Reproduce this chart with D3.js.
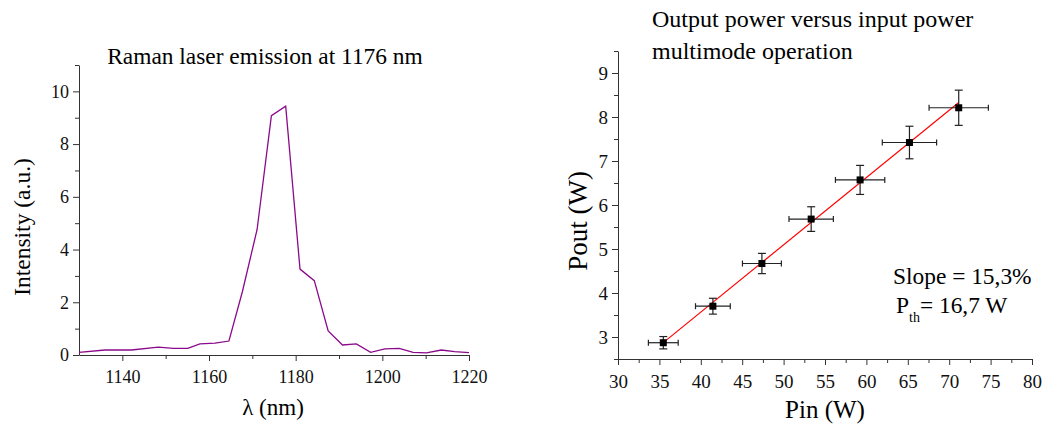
<!DOCTYPE html>
<html>
<head>
<meta charset="utf-8">
<script src="https://cdn.jsdelivr.net/npm/d3@7"></script>
<style>
  body { margin: 0; background: #fff; }
</style>
</head>
<body>
<svg width="1045" height="425" font-family="'Liberation Serif', 'Times New Roman', Times, serif"></svg>
<script>
const serif = "'Liberation Serif', 'Times New Roman', Times, serif";

// spectrum (left)
const lambda = [1130, 1136, 1142.1, 1148.3, 1151.8, 1155.1, 1157.9, 1161.4, 1164.6, 1167.7, 1171.1,
  1174.4, 1177.7, 1181, 1184.3, 1187.5, 1190.8, 1194, 1197.3, 1200.6, 1203.9, 1207.1, 1210.2,
  1213.6, 1216.7, 1220];
const intensity = [0.1, 0.19, 0.19, 0.3, 0.25, 0.25, 0.42, 0.45, 0.53, 2.4, 4.76,
  9.08, 9.44, 3.26, 2.82, 0.91, 0.38, 0.42, 0.1, 0.23, 0.25, 0.1, 0.08,
  0.19, 0.13, 0.09];
const specXTicks = [1140, 1160, 1180, 1200, 1220];
const specYTicks = [0, 2, 4, 6, 8, 10];

// output vs input power (right)
const pin = [35.47, 41.46, 47.38, 53.33, 59.24, 65.2, 71.15];
const pout = [2.87, 3.7, 4.67, 5.68, 6.57, 7.42, 8.21];
const pinErr = [1.8, 2.1, 2.35, 2.68, 2.98, 3.28, 3.58];
const poutErr = [0.14, 0.18, 0.23, 0.28, 0.33, 0.37, 0.4];
const slope = 0.153, pth = 16.7;
const pinTicks = [30, 35, 40, 45, 50, 55, 60, 65, 70, 75, 80];
const poutTicks = [3, 4, 5, 6, 7, 8, 9];

const svg = d3.select("svg");

// axis helper: major + minor ticks, serif labels
function axis(gen, tr, major, minor, fs, lblOff, horiz) {
  const g = svg.append("g").attr("transform", tr)
    .call(gen.tickValues(major).tickSize(6).tickSizeOuter(0).tickFormat(d3.format("d")));
  g.attr("font-family", serif).attr("font-size", fs);
  g.selectAll("path,line").attr("stroke", "#333");
  g.selectAll("text").attr("fill", "#111");
  if (horiz) g.selectAll("text").attr("dy", "1.05em");
  else g.selectAll("text").attr("x", -lblOff);
  const m = svg.append("g").attr("transform", tr)
    .call(gen.tickValues(minor).tickSize(4).tickFormat(""));
  m.select(".domain").remove();
  m.selectAll("line").attr("stroke", "#333");
}

// ---------- left chart ----------
const x1 = d3.scaleLinear().domain([1130, 1220]).range([79, 469]);
const y1 = d3.scaleLinear().domain([0, 11]).range([355, 65]);

axis(d3.axisBottom(x1), "translate(0,355)", specXTicks, [1150, 1170, 1190, 1210], 18, 0, true);
axis(d3.axisLeft(y1), "translate(79,0)", specYTicks, [1, 3, 5, 7, 9, 11], 18, 10, false);

svg.append("path")
  .datum(lambda.map((d, i) => [d, intensity[i]]))
  .attr("fill", "none")
  .attr("stroke", "#8b0a8b")
  .attr("stroke-width", 1.3)
  .attr("d", d3.line().x(d => x1(d[0])).y(d => y1(d[1])));

svg.append("text").attr("x", 265).attr("y", 64).attr("text-anchor", "middle")
  .attr("font-size", 23.4).text("Raman laser emission at 1176 nm");
svg.append("text").attr("transform", "translate(30,227) rotate(-90)")
  .attr("text-anchor", "middle").attr("font-size", 23.5).text("Intensity (a.u.)");
svg.append("text").attr("x", 273).attr("y", 415).attr("text-anchor", "middle")
  .attr("font-size", 23).text("λ (nm)");

// ---------- right chart ----------
const x2 = d3.scaleLinear().domain([30, 80]).range([618, 1032]);
const y2 = d3.scaleLinear().domain([2.5, 9.5]).range([359, 51]);

axis(d3.axisBottom(x2), "translate(0,359)", pinTicks, d3.range(32.5, 80, 5), 19, 0, true);
axis(d3.axisLeft(y2), "translate(618,0)", poutTicks, d3.range(2.5, 9.6, 1), 19, 10, false);

// linear fit
svg.append("line")
  .attr("x1", x2(pin[0])).attr("y1", y2(slope * (pin[0] - pth)))
  .attr("x2", x2(pin[pin.length - 1])).attr("y2", y2(slope * (pin[pin.length - 1] - pth)))
  .attr("stroke", "#ff0000").attr("stroke-width", 1.2);

const pts = svg.append("g").selectAll("g")
  .data(pin.map((d, i) => ({ x: d, y: pout[i], ex: pinErr[i], ey: poutErr[i] })))
  .join("g").attr("stroke", "#222").attr("stroke-width", 1.2);
// horizontal error bars
pts.append("line").attr("x1", d => x2(d.x - d.ex)).attr("x2", d => x2(d.x + d.ex))
  .attr("y1", d => y2(d.y)).attr("y2", d => y2(d.y));
pts.append("line").attr("x1", d => x2(d.x - d.ex)).attr("x2", d => x2(d.x - d.ex))
  .attr("y1", d => y2(d.y) - 3).attr("y2", d => y2(d.y) + 3);
pts.append("line").attr("x1", d => x2(d.x + d.ex)).attr("x2", d => x2(d.x + d.ex))
  .attr("y1", d => y2(d.y) - 3).attr("y2", d => y2(d.y) + 3);
// vertical error bars
pts.append("line").attr("x1", d => x2(d.x)).attr("x2", d => x2(d.x))
  .attr("y1", d => y2(d.y - d.ey)).attr("y2", d => y2(d.y + d.ey));
pts.append("line").attr("x1", d => x2(d.x) - 4).attr("x2", d => x2(d.x) + 4)
  .attr("y1", d => y2(d.y - d.ey)).attr("y2", d => y2(d.y - d.ey));
pts.append("line").attr("x1", d => x2(d.x) - 4).attr("x2", d => x2(d.x) + 4)
  .attr("y1", d => y2(d.y + d.ey)).attr("y2", d => y2(d.y + d.ey));
pts.append("rect").attr("x", d => x2(d.x) - 3.5).attr("y", d => y2(d.y) - 3.5)
  .attr("width", 7).attr("height", 7).attr("fill", "#000").attr("stroke", "none");

svg.append("text").attr("x", 652).attr("y", 27).attr("font-size", 24)
  .text("Output power versus input power");
svg.append("text").attr("x", 652).attr("y", 59).attr("font-size", 24)
  .text("multimode operation");
svg.append("text").attr("transform", "translate(587,221) rotate(-90)")
  .attr("text-anchor", "middle").attr("font-size", 27).text("Pout (W)");
svg.append("text").attr("x", 825).attr("y", 418).attr("text-anchor", "middle")
  .attr("font-size", 25).text("Pin (W)");

svg.append("text").attr("x", 893).attr("y", 284).attr("font-size", 23.4)
  .text("Slope = 15,3%");
const pthText = svg.append("text").attr("x", 896).attr("y", 313).attr("font-size", 23.4).attr("fill", "#000");
pthText.append("tspan").text("P");
pthText.append("tspan").attr("font-size", 14).attr("dy", 9).text("th");
pthText.append("tspan").attr("dy", -9).text("= 16,7 W");
</script>
</body>
</html>
